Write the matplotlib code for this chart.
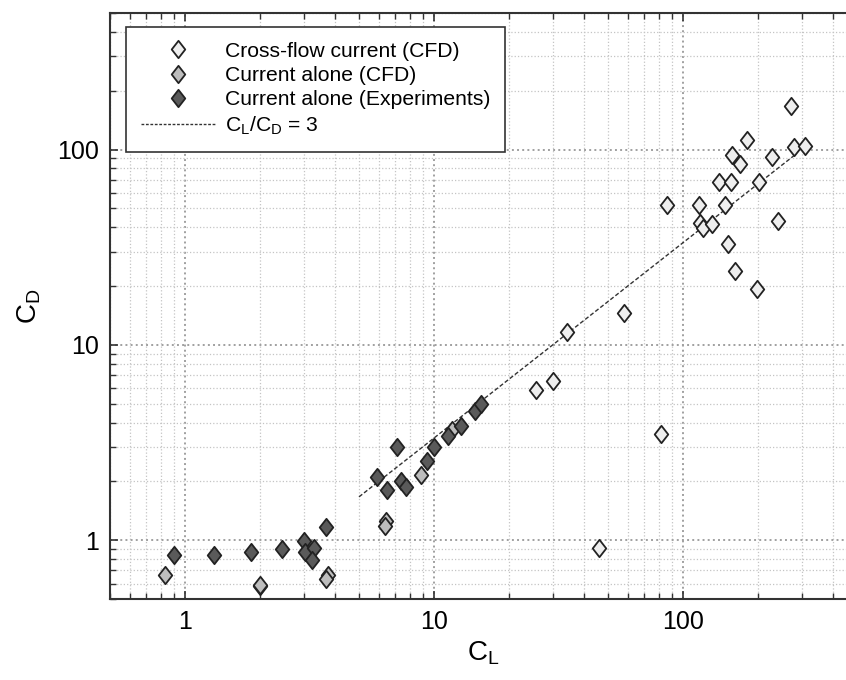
import numpy as np
import matplotlib.pyplot as plt
from matplotlib.path import Path
from matplotlib.lines import Line2D

plt.rcParams['font.family'] = ['Liberation Sans', 'DejaVu Sans']

# Cross-flow current (CFD)
cf_cl = [25.8, 30, 34.3, 58, 82, 46, 86, 116, 117, 120, 131, 139, 147, 151, 156,
         157, 169, 162, 180, 202, 198, 228, 240, 272, 278, 310]
cf_cd = [5.85, 6.55, 11.6, 14.6, 3.5, 0.91, 52, 52, 42, 39.5, 41.4, 68, 52, 33, 68,
         93.5, 84, 23.8, 112, 68, 19.4, 92, 43, 167, 103, 104]

# Current alone (CFD)
ca_cl = [0.83, 2.0, 2.0, 3.75, 3.7, 6.4, 6.35, 8.9, 11.8]
ca_cd = [0.665, 0.585, 0.59, 0.665, 0.635, 1.26, 1.18, 2.15, 3.65]

# Current alone (Experiments)
ex_cl = [0.9, 1.31, 1.84, 2.45, 3.0, 3.03, 3.29, 3.23, 3.68, 5.9, 7.1, 6.45, 7.35,
         7.7, 9.4, 10, 11.4, 12.8, 14.6, 15.4]
ex_cd = [0.84, 0.84, 0.87, 0.9, 0.995, 0.875, 0.91, 0.79, 1.17, 2.1, 3.0, 1.8, 2.0,
         1.88, 2.53, 2.99, 3.4, 3.85, 4.6, 5.0]

# CL/CD = 3 line
line_cl = np.array([5, 280])
line_cd = line_cl / 3.0

diamond = Path([(0, 1), (0.78, 0), (0, -1), (-0.78, 0), (0, 1)],
               [Path.MOVETO, Path.LINETO, Path.LINETO, Path.LINETO, Path.CLOSEPOLY])

fig = plt.figure(figsize=(8.46, 6.8), dpi=100)
ax = fig.add_axes([110 / 846, 81 / 680, 747 / 846, 586 / 680])
ax.set_xscale('log')
ax.set_yscale('log')
ax.set_xlim(0.5, 500)
ax.set_ylim(0.5, 500)

ax.grid(True, which='minor', color='#c4c4c4', linestyle=':', linewidth=0.9)
ax.grid(True, which='major', color='#a0a0a0', linestyle=':', linewidth=1.4)
ax.set_axisbelow(True)

ax.plot(line_cl, line_cd, color='#333333', linestyle='--', dashes=(3, 1.6),
        linewidth=1.0, zorder=2)

ms = 12.5
mew = 1.3
ax.plot(cf_cl, cf_cd, linestyle='none', marker=diamond, markersize=ms,
        markerfacecolor='#eeeeee', markeredgecolor='#222222', markeredgewidth=mew, zorder=3)
ax.plot(ca_cl, ca_cd, linestyle='none', marker=diamond, markersize=ms,
        markerfacecolor='#bdbdbd', markeredgecolor='#222222', markeredgewidth=mew, zorder=3)
ax.plot(ex_cl, ex_cd, linestyle='none', marker=diamond, markersize=ms,
        markerfacecolor='#5a5a5a', markeredgecolor='#222222', markeredgewidth=mew, zorder=3)

ax.set_xticks([1, 10, 100])
ax.set_xticklabels(['1', '10', '100'])
ax.set_yticks([1, 10, 100])
ax.set_yticklabels(['1', '10', '100'])
ax.tick_params(which='both', direction='in', top=True, right=True, labelsize=18,
               color='#333333', pad=8)
ax.tick_params(which='major', length=6, width=1.2)
ax.tick_params(which='minor', length=4, width=1.0)
for s in ax.spines.values():
    s.set_linewidth(1.5)
    s.set_color('#333333')

ax.set_xlabel('C$_\\mathregular{L}$', fontsize=20, labelpad=4)
ax.set_ylabel('C$_\\mathregular{D}$', fontsize=20, labelpad=10)

handles = [
    Line2D([], [], linestyle='none', marker=diamond, markersize=ms,
           markerfacecolor='#eeeeee', markeredgecolor='#222222', markeredgewidth=mew),
    Line2D([], [], linestyle='none', marker=diamond, markersize=ms,
           markerfacecolor='#bdbdbd', markeredgecolor='#222222', markeredgewidth=mew),
    Line2D([], [], linestyle='none', marker=diamond, markersize=ms,
           markerfacecolor='#5a5a5a', markeredgecolor='#222222', markeredgewidth=mew),
    Line2D([], [], color='#333333', linestyle='--', dashes=(2, 1.2), linewidth=1.0),
]
labels = ['Cross-flow current (CFD)', 'Current alone (CFD)',
          'Current alone (Experiments)', 'C$_\\mathregular{L}$/C$_\\mathregular{D}$ = 3']
leg = ax.legend(handles, labels, loc='upper left', bbox_to_anchor=(0.0214, 0.976),
                borderaxespad=0, fontsize=15.2, frameon=True, fancybox=False,
                edgecolor='#333333', framealpha=1, handlelength=3.5,
                handletextpad=0.5, labelspacing=0.25, borderpad=0.7)
leg.get_frame().set_linewidth(1.2)

fig.savefig('out.png', dpi=100)
